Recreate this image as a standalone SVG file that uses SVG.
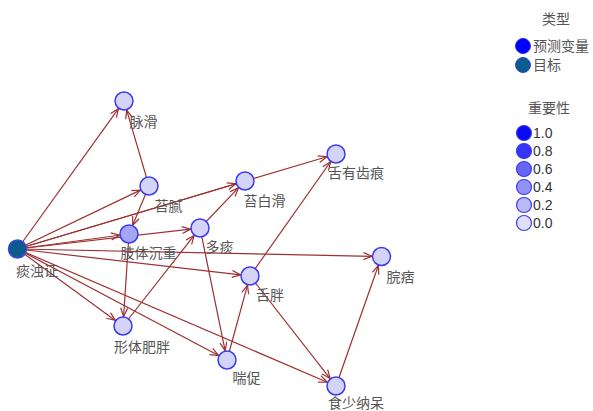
<svg xmlns="http://www.w3.org/2000/svg" width="593" height="411" viewBox="0 0 593 411">
<defs>
<marker id="arr" markerUnits="userSpaceOnUse" markerWidth="12" markerHeight="10" refX="9" refY="4" orient="auto">
<path d="M0.5,0.5 L9,4 L0.5,7.5" fill="none" stroke="#9e3030" stroke-width="1.2"/>
</marker>
</defs>
<style>
.e{stroke:#9e3030;stroke-width:1.2;fill:none;marker-end:url(#arr)}
.n{fill:#d4d4fb;stroke:#3a3af0;stroke-width:1.5}
.t{font-family:"Noto Sans CJK SC","Noto Sans CJK JP",sans-serif;font-size:14px;fill:#555;text-anchor:middle}
.lt{font-family:"Noto Sans CJK SC",sans-serif;font-size:14px;fill:#555}
.ln{font-family:"Liberation Sans",Arial,sans-serif;font-size:14px;fill:#333}
.lc{stroke:#3a3af0;stroke-width:1.2}
</style>
<rect width="593" height="411" fill="#fff"/>
<g id="edges">
<line class="e" x1="17.5" y1="249" x2="118.45" y2="108.71"/>
<line class="e" x1="17.5" y1="249" x2="140.43" y2="190.1"/>
<line class="e" x1="17.5" y1="249" x2="235.9" y2="183.72"/>
<line class="e" x1="17.5" y1="249" x2="326.9" y2="156.72"/>
<line class="e" x1="17.5" y1="249" x2="119.59" y2="235.27"/>
<line class="e" x1="17.5" y1="249" x2="190.56" y2="229.09"/>
<line class="e" x1="17.5" y1="249" x2="372" y2="256.3"/>
<line class="e" x1="17.5" y1="249" x2="240.57" y2="274.9"/>
<line class="e" x1="17.5" y1="249" x2="115.33" y2="320.4"/>
<line class="e" x1="17.5" y1="249" x2="218.61" y2="355.55"/>
<line class="e" x1="17.5" y1="249" x2="327.27" y2="382.25"/>
<line class="e" x1="149" y1="186" x2="126.68" y2="110.11"/>
<line class="e" x1="149" y1="186" x2="132.65" y2="225.23"/>
<line class="e" x1="129" y1="234" x2="123.62" y2="316.52"/>
<line class="e" x1="123" y1="326" x2="194.13" y2="235.47"/>
<line class="e" x1="200" y1="228" x2="238.43" y2="187.86"/>
<line class="e" x1="200" y1="228" x2="225.1" y2="350.69"/>
<line class="e" x1="227" y1="360" x2="247.49" y2="285.16"/>
<line class="e" x1="250" y1="276" x2="330.53" y2="161.76"/>
<line class="e" x1="250" y1="276" x2="330.15" y2="378.51"/>
<line class="e" x1="336" y1="386" x2="378.35" y2="265.46"/>
</g>
<g id="n-tanzhuozheng"><circle cx="17.5" cy="249" r="9" fill="#0d5a8c" stroke="#3a4ad8" stroke-width="1.5"/><text class="t" x="37" y="276">痰浊证</text></g>
<g id="n-maihua"><circle class="n" cx="124" cy="101" r="9"/><text class="t" x="143.5" y="127">脉滑</text></g>
<g id="n-taini"><circle class="n" cx="149" cy="186" r="9"/><text class="t" x="168.5" y="211">苔腻</text></g>
<g id="n-zhitichenzhong"><circle class="n" cx="129" cy="234" r="9" style="fill:#a6a6f4"/><text class="t" x="148.5" y="258">肢体沉重</text></g>
<g id="n-duotan"><circle class="n" cx="200" cy="228" r="9"/><text class="t" x="219.5" y="252">多痰</text></g>
<g id="n-taibaihua"><circle class="n" cx="245" cy="181" r="9"/><text class="t" x="264.5" y="206">苔白滑</text></g>
<g id="n-sheyouchihen"><circle class="n" cx="336" cy="154" r="9"/><text class="t" x="356" y="178">舌有齿痕</text></g>
<g id="n-shepang"><circle class="n" cx="250" cy="276" r="9"/><text class="t" x="270" y="300">舌胖</text></g>
<g id="n-wanpi"><circle class="n" cx="381.5" cy="256.5" r="9"/><text class="t" x="400.5" y="282">脘痞</text></g>
<g id="n-xingtifeipang"><circle class="n" cx="123" cy="326" r="9"/><text class="t" x="142" y="352">形体肥胖</text></g>
<g id="n-chuancu"><circle class="n" cx="227" cy="360" r="9"/><text class="t" x="246.5" y="383">喘促</text></g>
<g id="n-shishaonadai"><circle class="n" cx="336" cy="386" r="9"/><text class="t" x="356" y="407.5">食少纳呆</text></g>
<g id="legend">
<text class="lt" x="556" y="24" text-anchor="middle">类型</text>
<circle cx="523" cy="46" r="7.5" fill="#0000ff" stroke="#2a2ae8" stroke-width="1"/>
<text class="lt" x="533" y="51">预测变量</text>
<circle cx="523" cy="65" r="7.5" fill="#0e5c8e" stroke="#2a4ad8" stroke-width="1"/>
<text class="lt" x="533" y="70">目标</text>
<text class="lt" x="549" y="113" text-anchor="middle">重要性</text>
<circle class="lc" cx="524" cy="133" r="7.5" fill="#0a0af8"/><text class="ln" x="533" y="138">1.0</text>
<circle class="lc" cx="524" cy="151" r="7.5" fill="#3535f6"/><text class="ln" x="533" y="156">0.8</text>
<circle class="lc" cx="524" cy="169" r="7.5" fill="#6565f6"/><text class="ln" x="533" y="174">0.6</text>
<circle class="lc" cx="524" cy="187" r="7.5" fill="#9292f6"/><text class="ln" x="533" y="192">0.4</text>
<circle class="lc" cx="524" cy="205" r="7.5" fill="#babaf8"/><text class="ln" x="533" y="210">0.2</text>
<circle class="lc" cx="524" cy="223" r="7.5" fill="#e0e0fc"/><text class="ln" x="533" y="228">0.0</text>
</g>
</svg>
